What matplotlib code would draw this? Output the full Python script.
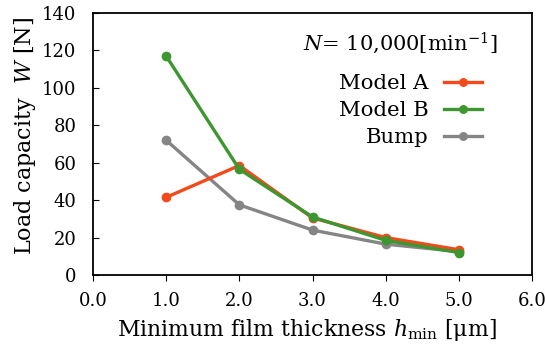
import matplotlib
matplotlib.use("Agg")
import matplotlib.pyplot as plt

h_min = [1.0, 2.0, 3.0, 4.0, 5.0]
model_a = [41.5, 58.5, 30.5, 20.0, 13.5]
model_b = [117.0, 56.5, 31.0, 18.5, 12.0]
bump = [72.0, 37.5, 24.0, 16.5, 12.5]

plt.rcParams['font.family'] = ['DejaVu Serif']
plt.rcParams['mathtext.fontset'] = 'dejavuserif'

fig = plt.figure(figsize=(5.45, 3.48), dpi=100)
ax = fig.add_axes([93/545, 1-275/348, (532-93)/545, (275-13)/348])

ax.plot(h_min, model_a, color='#F24A1B', lw=2.4, marker='o', ms=6, label='Model A', zorder=3)
ax.plot(h_min, model_b, color='#3E9630', lw=2.4, marker='o', ms=6, label='Model B', zorder=4)
ax.plot(h_min, bump, color='#858585', lw=2.4, marker='o', ms=6, label='Bump', zorder=2)

ax.set_xlim(0, 6)
ax.set_ylim(0, 140)
ax.set_xticks([0, 1, 2, 3, 4, 5, 6])
ax.set_xticklabels(['0.0', '1.0', '2.0', '3.0', '4.0', '5.0', '6.0'])
ax.set_yticks(range(0, 141, 20))
ax.tick_params(axis='y', direction='in', labelsize=13, length=4, pad=12)
ax.tick_params(axis='x', direction='out', labelsize=13, length=4, pad=8)
for s in ax.spines.values():
    s.set_linewidth(1.3)

ax.set_xlabel(r'Minimum film thickness $h_{\mathrm{min}}$ [$\mathrm{\mu}$m]', fontsize=15.8,
              labelpad=5, x=0.488)
ax.set_ylabel(r'Load capacity  $W$ [N]', fontsize=16, labelpad=3, y=0.53)

leg = ax.legend(loc='upper right', bbox_to_anchor=(0.886, 0.766), frameon=False,
                markerfirst=False, fontsize=15.3, handlelength=1.8, handletextpad=0.7,
                labelspacing=0.38, borderaxespad=0, borderpad=0, markerscale=0.9)
for t in leg.get_texts():
    t.set_ha('right')
ax.text(0.9226, 0.886, r'$N$= 10,000[min$^{\mathrm{-1}}$]', transform=ax.transAxes,
        fontsize=15, ha='right', va='center')

fig.savefig('out.png', dpi=100)
